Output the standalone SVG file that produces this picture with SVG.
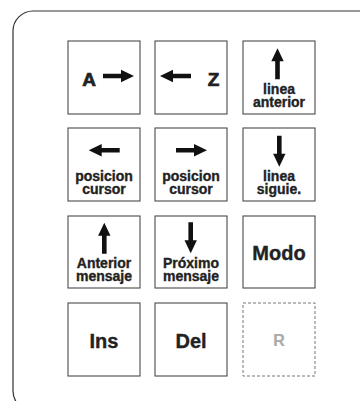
<svg xmlns="http://www.w3.org/2000/svg" xmlns:xlink="http://www.w3.org/1999/xlink" width="360" height="401" viewBox="0 0 360 401">
<style>
.key{fill:#fff;stroke:#4a4a4a;stroke-width:1.1}
.ghost{fill:#fff;stroke:#777;stroke-width:1;stroke-dasharray:3 2}
.t{font-family:"Liberation Sans",Arial,sans-serif;font-weight:bold;fill:#222;text-anchor:middle;stroke:#222;stroke-width:0.35}
.s{font-size:14px}
.b{font-size:20px}
.l{font-size:19px;stroke-width:0.7}
.r{font-size:16px;fill:#aaa;stroke:#aaa;stroke-width:0.2}
.arr{fill:#111}
</style>
<defs>
<path id="up" class="arr" d="M0,0 L6.2,13 L2.3,13 L2.3,31 L-2.3,31 L-2.3,13 L-6.2,13 Z"/>
</defs>
<rect x="13" y="11" width="372" height="400" rx="20" ry="20" fill="#fff" stroke="#333" stroke-width="1.2"/>
<g id="connectors"></g>
<g id="k1"><rect class="key" x="68" y="41" width="72" height="73"/><text class="t l" x="89" y="85.5">A</text><use xlink:href="#up" transform="translate(134,76) rotate(90)"/></g>
<g id="k2"><rect class="key" x="155" y="41" width="72" height="73"/><text class="t l" x="213.5" y="85.5">Z</text><use xlink:href="#up" transform="translate(160,76) rotate(-90)"/></g>
<g id="k3"><rect class="key" x="243" y="41" width="72" height="73"/><use xlink:href="#up" transform="translate(277.5,48.3)"/><text class="t s" x="279" y="94">linea</text><text class="t s" x="279" y="107">anterior</text></g>
<g id="k4"><rect class="key" x="68" y="128" width="72" height="73"/><use xlink:href="#up" transform="translate(88.7,150.3) rotate(-90)"/><text class="t s" x="104" y="181">posicion</text><text class="t s" x="104" y="194">cursor</text></g>
<g id="k5"><rect class="key" x="155" y="128" width="72" height="73"/><use xlink:href="#up" transform="translate(207,150.3) rotate(90)"/><text class="t s" x="191" y="181">posicion</text><text class="t s" x="191" y="194">cursor</text></g>
<g id="k6"><rect class="key" x="243" y="128" width="72" height="73"/><use xlink:href="#up" transform="translate(279.3,166.7) rotate(180)"/><text class="t s" x="279" y="181">linea</text><text class="t s" x="279" y="194">siguie.</text></g>
<g id="k7"><rect class="key" x="68" y="216" width="72" height="72"/><use xlink:href="#up" transform="translate(104.3,222.7)"/><text class="t s" x="104" y="268">Anterior</text><text class="t s" x="104" y="281">mensaje</text></g>
<g id="k8"><rect class="key" x="155" y="216" width="72" height="72"/><use xlink:href="#up" transform="translate(190.7,253.3) rotate(180)"/><text class="t s" x="191" y="268">Próximo</text><text class="t s" x="191" y="281">mensaje</text></g>
<g id="k9"><rect class="key" x="243" y="216" width="72" height="72"/><text class="t b" x="279" y="259.5">Modo</text></g>
<g id="k10"><rect class="key" x="68" y="303" width="72" height="73"/><text class="t b" x="104" y="347.5">Ins</text></g>
<g id="k11"><rect class="key" x="155" y="303" width="72" height="73"/><text class="t b" x="191" y="347.5">Del</text></g>
<g id="k12"><rect class="ghost" x="243" y="303" width="72" height="73"/><text class="t r" x="279" y="346">R</text></g>
</svg>
